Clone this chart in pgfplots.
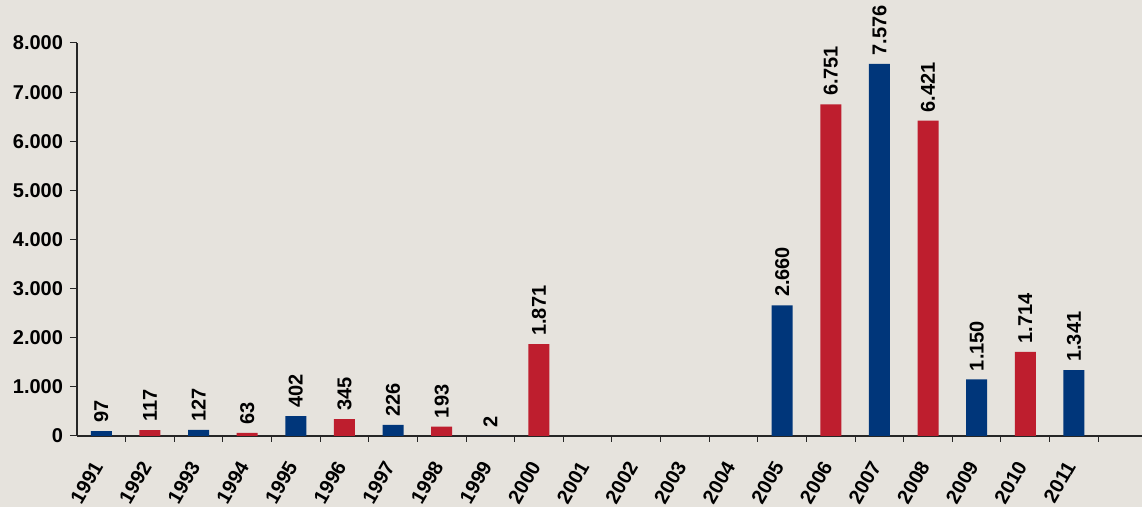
\documentclass[border=0pt]{standalone}
\usepackage{fontspec}
\setmainfont{Liberation Sans}
\usepackage{pgfplots}
\pgfplotsset{compat=1.18}
\definecolor{bg}{RGB}{230,227,221}
\definecolor{barblue}{RGB}{0,54,122}
\definecolor{barred}{RGB}{190,30,46}
\newcommand{\lblfont}{\bfseries\fontsize{10}{12}\selectfont}
\begin{document}
\begin{tikzpicture}
\fill[bg] (-38.5pt,-35.5pt) rectangle (532.5pt,218pt);
\begin{axis}[
    scale only axis,
    width=532.5pt, height=196.5pt,
    xmin=-0.5, xmax=21.4,
    ymin=0, ymax=8000,
    axis x line*=bottom, axis y line*=left,
    axis line style={black!85, line width=1pt},
    tick align=outside,
    major tick length=3.5pt, minor tick length=3pt,
    tick style={black!85, line width=0.5pt},
    major x tick style={draw=none},
    xtick={0,...,20},
    xticklabels={1991,1992,1993,1994,1995,1996,1997,1998,1999,2000,2001,2002,2003,2004,2005,2006,2007,2008,2009,2010,2011},
    minor xtick={0.5,1.5,...,20.5},
    ytick={0,1000,...,8000},
    xticklabel shift=7pt,
    x tick label style={rotate=60, anchor=east, font=\lblfont},
    y tick label style={font=\lblfont},
    /pgf/number format/fixed,
    /pgf/number format/precision=0,
    /pgf/number format/1000 sep={.},
    /pgf/number format/assume math mode=true,
    scaled y ticks=false,
    nodes near coords,
    every node near coord/.append style={rotate=90, anchor=west, inner xsep=4pt, inner ysep=0pt, font=\lblfont, black},
    clip=false,
]
\addplot[ybar, bar width=10.5pt, bar shift=0pt, fill=barblue, draw=none]
  coordinates {(0,97) (2,127) (4,402) (6,226) (8,2) (14,2660) (16,7576) (18,1150) (20,1341)};
\addplot[ybar, bar width=10.5pt, bar shift=0pt, fill=barred, draw=none]
  coordinates {(1,117) (3,63) (5,345) (7,193) (9,1871) (15,6751) (17,6421) (19,1714)};
\end{axis}
\pgfresetboundingbox
\path (-38.5pt,-35.5pt) rectangle (532.5pt,218pt);
\end{tikzpicture}
\end{document}
